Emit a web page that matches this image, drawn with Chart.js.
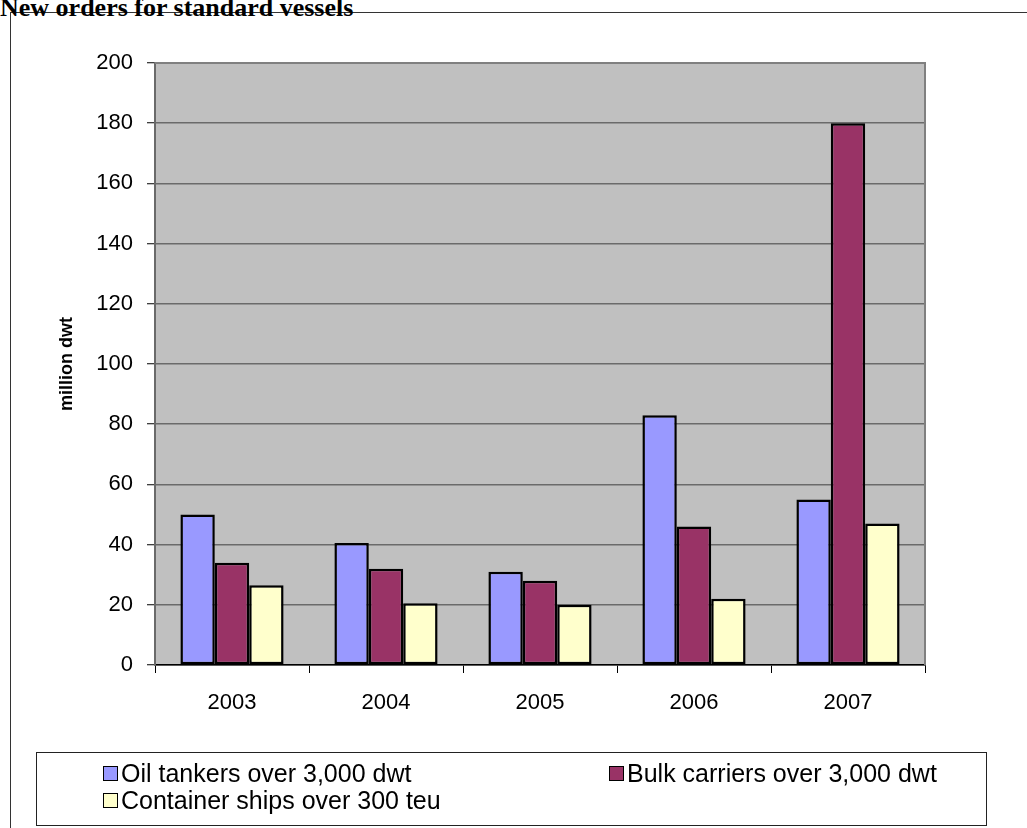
<!DOCTYPE html>
<html>
<head>
<meta charset="utf-8">
<script src="https://cdn.jsdelivr.net/npm/chart.js@4/dist/chart.umd.min.js"></script>
<style>
  html, body { margin: 0; padding: 0; background: #fff; overflow: hidden; }
  #wrap { position: relative; width: 1027px; height: 828px; }
  #frame { position: absolute; left: 10px; top: 12px; width: 1100px; height: 900px; border: 1.5px solid #333; box-sizing: border-box; }
  #title { position: absolute; left: 0px; top: -7px; font-family: "Liberation Serif", "Times New Roman", serif; font-weight: bold; font-size: 26px; color: #000; white-space: nowrap; }
  #chart { position: absolute; left: 0; top: 0; }
  #legend { position: absolute; left: 36px; top: 752px; width: 951px; height: 74px; border: 1px solid #222; box-sizing: border-box; font-family: "Liberation Sans", Arial, sans-serif; font-size: 25px; color: #000; }
  .item { position: absolute; white-space: nowrap; line-height: 28px; }
  .sw { position: absolute; left: 0; top: 7px; width: 13px; height: 13px; border: 1px solid #000; }
  .lbl { position: absolute; left: 18px; top: 0; }
</style>
</head>
<body>
<div id="wrap">
  <div id="frame"></div>
  <div id="title">New orders for standard vessels</div>
  <canvas id="chart" width="1027" height="828"></canvas>
  <div id="legend"></div>
</div>
<script>
const categories = ["2003", "2004", "2005", "2006", "2007"];
const oilTankers = [50, 40.5, 31, 83, 55];
const bulkCarriers = [34, 32, 28, 46, 180];
const containerShips = [26.5, 20.5, 20, 22, 47];
const seriesNames = ["Oil tankers over 3,000 dwt", "Bulk carriers over 3,000 dwt", "Container ships over 300 teu"];
const seriesColors = ["#9999FF", "#993366", "#FFFFCC"];
const yTitle = "million dwt";

const plotBg = {
  id: 'plotBg',
  beforeDraw(chart) {
    const { ctx, chartArea: a } = chart;
    ctx.save();
    ctx.fillStyle = '#C0C0C0';
    ctx.fillRect(a.left, a.top, a.right - a.left, a.bottom - a.top);
    ctx.restore();
  },
  afterDraw(chart) {
    const { ctx, chartArea: a } = chart;
    ctx.save();
    ctx.strokeStyle = '#808080';
    ctx.lineWidth = 2;
    ctx.beginPath();
    ctx.moveTo(a.left, a.top);
    ctx.lineTo(a.right, a.top);
    ctx.lineTo(a.right, a.bottom);
    ctx.stroke();
    ctx.restore();
  }
};

const chart = new Chart(document.getElementById('chart'), {
  type: 'bar',
  data: {
    labels: categories,
    datasets: [
      { label: seriesNames[0], data: oilTankers, backgroundColor: seriesColors[0] },
      { label: seriesNames[1], data: bulkCarriers, backgroundColor: seriesColors[1] },
      { label: seriesNames[2], data: containerShips, backgroundColor: seriesColors[2] }
    ].map(d => Object.assign(d, { borderColor: '#000', borderWidth: 2.5, borderSkipped: false, categoryPercentage: 0.67, barPercentage: 1 }))
  },
  options: {
    responsive: false,
    animation: false,
    layout: { padding: { left: 52, right: 102, top: 63, bottom: 103 } },
    plugins: { legend: { display: false }, tooltip: { enabled: false } },
    scales: {
      x: {
        offset: true,
        afterFit(s) { s.height = 60; },
        grid: { offset: true, drawOnChartArea: false, drawTicks: true, tickLength: 8, color: '#000', lineWidth: 1 },
        border: { display: true, color: '#000', width: 1.5 },
        ticks: { color: '#000', padding: 17, font: { family: 'Liberation Sans', size: 22 } }
      },
      y: {
        min: 0, max: 200,
        afterFit(s) { s.width = 103; },
        ticks: { stepSize: 20, color: '#000', padding: 14, font: { family: 'Liberation Sans', size: 22 } },
        grid: { color: '#6a6a6a', lineWidth: 1.5, tickLength: 8, tickColor: '#000', tickWidth: 1 },
        border: { display: true, color: '#6a6a6a', width: 2 },
        title: { display: true, text: yTitle, color: '#000', padding: { top: 4, bottom: 0 }, font: { family: 'Liberation Sans', size: 18, weight: 'bold' } }
      }
    }
  },
  plugins: [plotBg]
});

// HTML legend built from chart datasets
const legend = document.getElementById('legend');
const positions = [[66, 6], [572, 6], [66, 33]];
chart.data.datasets.forEach((ds, i) => {
  const it = document.createElement('div');
  it.className = 'item';
  it.style.left = positions[i][0] + 'px';
  it.style.top = positions[i][1] + 'px';
  const sw = document.createElement('div');
  sw.className = 'sw';
  sw.style.background = ds.backgroundColor;
  const lb = document.createElement('span');
  lb.className = 'lbl';
  lb.textContent = ds.label;
  it.appendChild(sw); it.appendChild(lb);
  legend.appendChild(it);
});
</script>
</body>
</html>
